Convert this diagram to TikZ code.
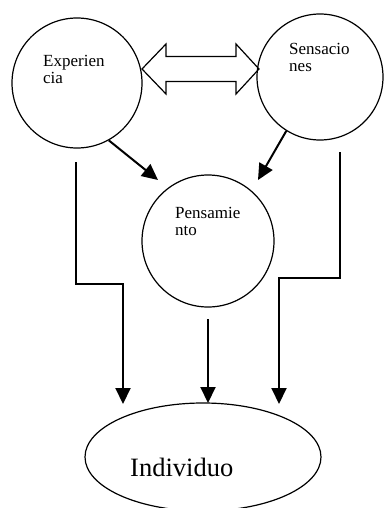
\documentclass[tikz,border=0pt]{standalone}
\usepackage{fontspec}
\setmainfont{Liberation Serif}
\usetikzlibrary{arrows.meta,calc,shapes.geometric}
\begin{document}
\begin{tikzpicture}[x=1pt,y=-1pt,
  circ/.style={draw,circle,line width=1.2pt,inner sep=0pt},
  lbl/.style={anchor=base west,inner sep=0pt,align=left,font=\fontsize{17}{17}\selectfont},
  conn/.style={line width=2pt,-{Triangle[width=15pt,length=16pt]}},
]
\useasboundingbox (0,0) rectangle (384,508);
% circles
\node[circ,minimum size=130pt] (e) at (77,83) {};
\node[circ,minimum size=126pt] (s) at (320,77) {};
\node[circ,minimum size=132pt] (p) at (208,241) {};
\node[draw,ellipse,line width=1.2pt,minimum width=236pt,minimum height=108pt,inner sep=0pt] (i) at (203,457) {};
% labels (anchor at baseline of the last line)
\node[lbl] (et) at (43,84) {Experien\\cia};
\node[lbl] (st) at (289,72) {Sensacio\\nes};
\node[lbl] (pt) at (175,235) {Pensamie\\nto};
\node[anchor=base west,inner sep=0pt,font=\fontsize{26.5}{30}\selectfont] (it) at (130,476) {Individuo};
% double arrow
\coordinate (dl) at (142,69);
\coordinate (dr) at (259,69);
\draw[line width=1.2pt,line join=miter] (dl) -- ++(24,-25) -- ++(0,12.5) -- ($(dr)+(-23,-12.5)$) -- ++(0,-12.5) -- (dr) -- ++(-23,25) -- ++(0,-12.5) -- ($(dl)+(24,12.5)$) -- ++(0,12.5) -- cycle;
% diagonal arrows
\coordinate (pl) at (158,180);
\coordinate (pr) at (258,180);
\draw[conn] (e.-61) -- (pl);
\draw[conn] (s.-122) -- (pr);
% elbow arrows
\coordinate (el) at (76,162);
\coordinate (il) at (123,404);
\coordinate (sr) at (340,152);
\coordinate (ir) at (279,404);
\coordinate (pb) at (208,319);
\coordinate (im) at (208,403);
\draw[conn] (el) -- (76,284) -- (123,284) -- (il);
\draw[conn] (pb) -- (im);
\draw[conn] (sr) -- (340,278) -- (279,278) -- (ir);
\end{tikzpicture}
\end{document}
